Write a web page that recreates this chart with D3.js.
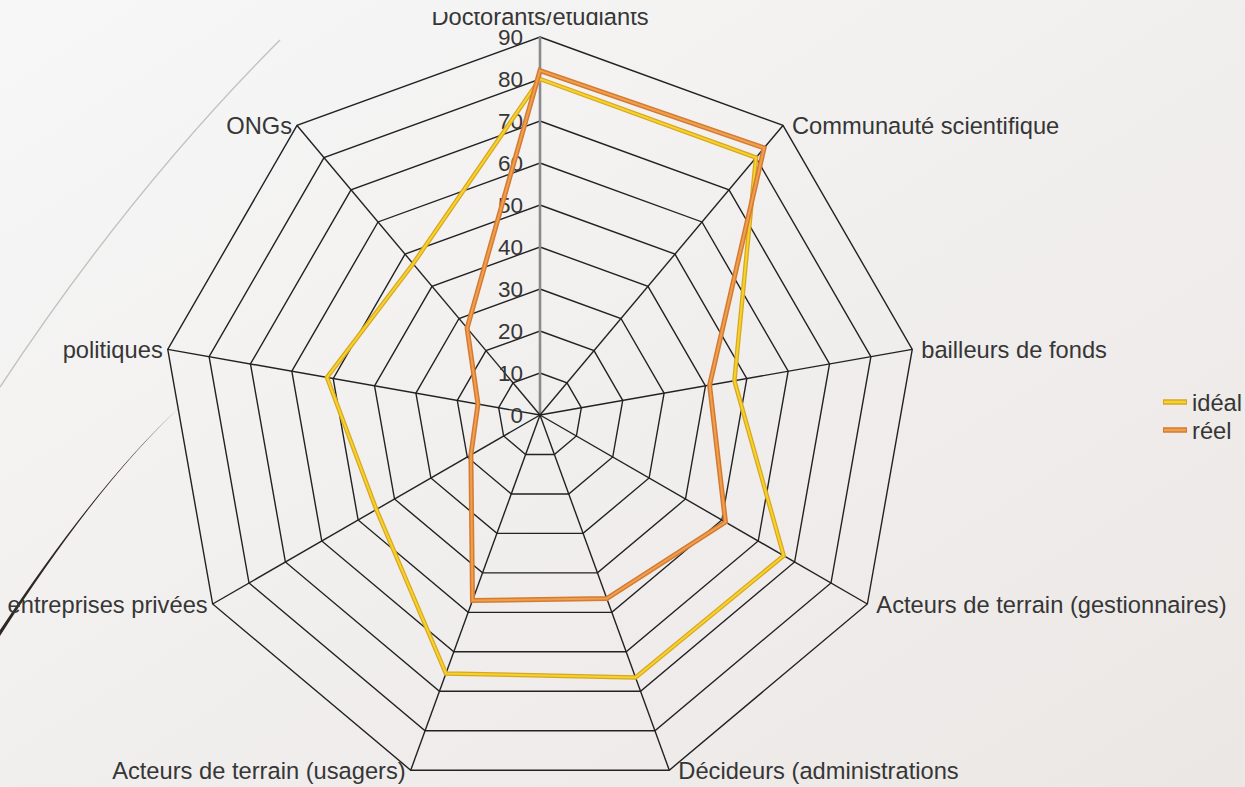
<!DOCTYPE html>
<html>
<head>
<meta charset="utf-8">
<script src="https://cdn.jsdelivr.net/npm/d3@7"></script>
<style>
  html, body { margin: 0; padding: 0; overflow: hidden; }
  svg { display: block; }
  text { font-family: "Liberation Sans", Arial, sans-serif; fill: #363636; }
</style>
</head>
<body>
<div id="chart"></div>
<script>
// data
const categories = ["Doctorants/étudiants", "Communauté scientifique", "bailleurs de fonds",
  "Acteurs de terrain (gestionnaires)", "Décideurs (administrations", "Acteurs de terrain (usagers)",
  "entreprises privées", "politiques", "ONGs"];
const ideal = [80, 80, 47, 67, 66.5, 65.5, 45, 51.5, 47];
const reel = [82, 83, 41, 51, 46.5, 47, 19, 15, 27];
const tickValues = [0, 10, 20, 30, 40, 50, 60, 70, 80, 90];
const seriesNames = ["idéal", "réel"];

const width = 1245, height = 787;
const cx = 540, cy = 415, R = 378;
const fontSize = 23.7, tickSize = 22.5;

const svg = d3.select("#chart").append("svg")
  .attr("width", width)
  .attr("height", height);

// background of the slide
const defs = svg.append("defs");
const bg = defs.append("linearGradient").attr("id", "bg")
  .attr("x1", "0%").attr("y1", "0%").attr("x2", "100%").attr("y2", "100%");
bg.append("stop").attr("offset", "0%").style("stop-color", "#f7f7f7");
bg.append("stop").attr("offset", "100%").style("stop-color", "#ebe7e5");
svg.append("rect").attr("width", width).attr("height", height).attr("fill", "url(#bg)");

defs.append("clipPath").attr("id", "cut")
  .append("rect").attr("x", 0).attr("y", 12).attr("width", width).attr("height", height);

// decorative curves of the theme
svg.append("path")
  .attr("d", "M280,40 Q130,190 0,387")
  .attr("fill", "none")
  .attr("stroke", "#c4c2c1")
  .attr("stroke-width", 1.4);
svg.append("path")
  .attr("d", "M181,406 Q100,480 0,630 L0,636 Q97,484 181,406 Z")
  .attr("fill", "#2f2824");

const g = svg.append("g")
  .attr("clip-path", "url(#cut)")
  .append("g")
  .attr("transform", "translate(" + cx + "," + cy + ")");

const r = d3.scaleLinear().domain([0, 90]).range([0, R]);
const angle = i => i * 2 * Math.PI / categories.length;

const ring = d3.lineRadial()
  .angle((d, i) => angle(i))
  .radius(d => r(d))
  .curve(d3.curveLinearClosed);

// grid rings
tickValues.filter(t => t > 0).forEach(t => {
  g.append("path")
    .attr("d", ring(categories.map(() => t)))
    .attr("fill", "none")
    .attr("stroke", "#222")
    .attr("stroke-width", 1.4);
});

// spokes
categories.forEach((c, i) => {
  const a = angle(i);
  g.append("line")
    .attr("x1", 0).attr("y1", 0)
    .attr("x2", r(90) * Math.sin(a))
    .attr("y2", -r(90) * Math.cos(a))
    .attr("stroke", i == 0 ? "#8a8a8a" : "#222")
    .attr("stroke-width", i == 0 ? 2.6 : 1.4);
});

// value labels along the first axis
g.selectAll(".tick").data(tickValues).enter()
  .append("text")
  .attr("class", "tick")
  .attr("x", -17)
  .attr("y", d => -r(d))
  .attr("dy", "0.35em")
  .attr("text-anchor", "end")
  .style("font-size", tickSize + "px")
  .text(d => d);

// category labels
categories.forEach((c, i) => {
  const a = angle(i);
  const x = r(90) * Math.sin(a), y = -r(90) * Math.cos(a);
  const t = g.append("text").text(c).style("font-size", fontSize + "px");
  if (i == 0) {
    t.attr("x", x).attr("y", y - 12).attr("text-anchor", "middle");
  } else if (Math.sin(a) > 0) {
    t.attr("x", x + 9).attr("y", y).attr("dy", "0.38em").attr("text-anchor", "start");
  } else {
    t.attr("x", x - 5).attr("y", y).attr("dy", "0.38em").attr("text-anchor", "end");
  }
});

// the two series
const colors = [
  { edge: "#d9a624", mid: "#f5d42a" },
  { edge: "#d47a33", mid: "#f0a04c" }
];
[ideal, reel].forEach((vals, k) => {
  g.append("path")
    .attr("d", ring(vals))
    .attr("fill", "none")
    .attr("stroke", colors[k].edge)
    .attr("stroke-width", k == 0 ? 4.5 : 5)
    .attr("stroke-linejoin", "miter");
  g.append("path")
    .attr("d", ring(vals))
    .attr("fill", "none")
    .attr("stroke", colors[k].mid)
    .attr("stroke-width", 2)
    .attr("stroke-linejoin", "miter");
});

// legend
const legend = svg.append("g").attr("transform", "translate(1163,402)");
seriesNames.forEach((s, k) => {
  const row = legend.append("g").attr("transform", "translate(0," + (k * 28) + ")");
  row.append("line").attr("x1", 0).attr("x2", 24).attr("y1", 0).attr("y2", 0)
    .attr("stroke", colors[k].edge).attr("stroke-width", 5.5);
  row.append("line").attr("x1", 1).attr("x2", 23).attr("y1", 0).attr("y2", 0)
    .attr("stroke", colors[k].mid).attr("stroke-width", 2.5);
  row.append("text").attr("x", 29).attr("y", 0).attr("dy", "0.36em")
    .style("font-size", fontSize + "px").text(s);
});
</script>
</body>
</html>
